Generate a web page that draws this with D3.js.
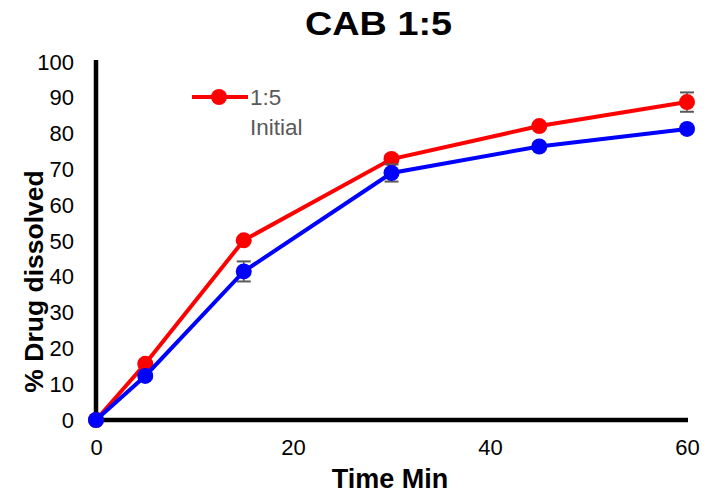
<!DOCTYPE html>
<html>
<head>
<meta charset="utf-8">
<script src="https://cdn.jsdelivr.net/npm/d3@7"></script>
<style>
  html, body { margin: 0; padding: 0; background: #fff; }
  svg { display: block; font-family: "Liberation Sans", Arial, sans-serif; }
</style>
</head>
<body>
<svg id="chart" width="710" height="495"></svg>
<script>
// Dissolution time points (minutes)
const times = [0, 5, 15, 30, 45, 60];
// % drug dissolved, 1:5 formulation
const ratioValues = [0, 15.7, 50.2, 72.9, 82.1, 88.8];
const ratioErrors = [0, 0.8, 0.8, 1.0, 0.8, 2.7];
// % drug dissolved, initial
const initialValues = [0, 12.3, 41.5, 69.0, 76.4, 81.3];
const initialErrors = [0, 0.8, 2.8, 2.4, 0.8, 0.8];
const xTicks = [0, 20, 40, 60];
const yTicks = [0, 10, 20, 30, 40, 50, 60, 70, 80, 90, 100];

const svg = d3.select("#chart");
const x = d3.scaleLinear().domain([0, 60]).range([96, 687]);
const y = d3.scaleLinear().domain([0, 100]).range([420, 62]);

// Axes: thick lines, labels only
const xAxis = d3.axisBottom(x).tickValues(xTicks).tickSize(0).tickPadding(19);
const yAxis = d3.axisLeft(y).tickValues(yTicks).tickSize(0).tickPadding(22);

const gx = svg.append("g").attr("transform", `translate(0,${y(0)})`).call(xAxis);
const gy = svg.append("g").attr("transform", `translate(${x(0)},0)`).call(yAxis);
[gx, gy].forEach(g => {
  g.select(".domain").attr("stroke", "#000").attr("stroke-width", 4.5);
  g.selectAll("text").attr("font-size", 22).attr("fill", "#000")
    .style("font-family", "'Liberation Sans', Arial, sans-serif");
});
gy.select(".domain").attr("d", `M0,${y(100) - 2}V${y(0) + 2}`);
gx.select(".domain").attr("d", `M${x(0) - 2},0H${x(60) + 1}`);

const line = d3.line().x(d => x(d[0])).y(d => y(d[1]));

function drawSeries(values, errors, color) {
  const pts = times.map((t, i) => [t, values[i], errors[i]]);
  const g = svg.append("g");
  // error bars
  const eb = g.selectAll(".eb").data(pts.filter(d => d[2] > 0)).enter().append("g");
  eb.append("line")
    .attr("x1", d => x(d[0])).attr("x2", d => x(d[0]))
    .attr("y1", d => y(d[1] - d[2])).attr("y2", d => y(d[1] + d[2]))
    .attr("stroke", "#595959").attr("stroke-width", 1.5);
  [-1, 1].forEach(s => {
    eb.append("line")
      .attr("x1", d => x(d[0]) - 7).attr("x2", d => x(d[0]) + 7)
      .attr("y1", d => y(d[1] + s * d[2])).attr("y2", d => y(d[1] + s * d[2]))
      .attr("stroke", "#595959").attr("stroke-width", 2);
  });
  g.append("path").datum(pts).attr("d", line)
    .attr("fill", "none").attr("stroke", color).attr("stroke-width", 4);
  g.selectAll("circle").data(pts).enter().append("circle")
    .attr("cx", d => x(d[0])).attr("cy", d => y(d[1])).attr("r", 8)
    .attr("fill", color);
}

drawSeries(ratioValues, ratioErrors, "#ff0000");
drawSeries(initialValues, initialErrors, "#0000ff");

// Legend
const leg = svg.append("g");
leg.append("line").attr("x1", 192).attr("x2", 248).attr("y1", 97).attr("y2", 97)
  .attr("stroke", "#ff0000").attr("stroke-width", 4);
leg.append("circle").attr("cx", 219).attr("cy", 97).attr("r", 8).attr("fill", "#ff0000");
leg.append("text").attr("x", 250).attr("y", 105).attr("font-size", 22.5)
  .attr("fill", "#595959").text("1:5");
leg.append("text").attr("x", 250).attr("y", 135).attr("font-size", 22.5)
  .attr("fill", "#595959").text("Initial");

// Title and axis titles
svg.append("text").attr("x", 378.5).attr("y", 35).attr("text-anchor", "middle")
  .attr("font-size", 33).attr("font-weight", "bold")
  .attr("textLength", 147).attr("lengthAdjust", "spacingAndGlyphs").text("CAB 1:5");
svg.append("text").attr("x", 390).attr("y", 488).attr("text-anchor", "middle")
  .attr("font-size", 27).attr("font-weight", "bold").text("Time Min");
svg.append("text").attr("transform", "translate(43,281.5) rotate(-90)")
  .attr("text-anchor", "middle").attr("font-size", 26.5).attr("font-weight", "bold")
  .text("% Drug dissolved");
</script>
</body>
</html>
